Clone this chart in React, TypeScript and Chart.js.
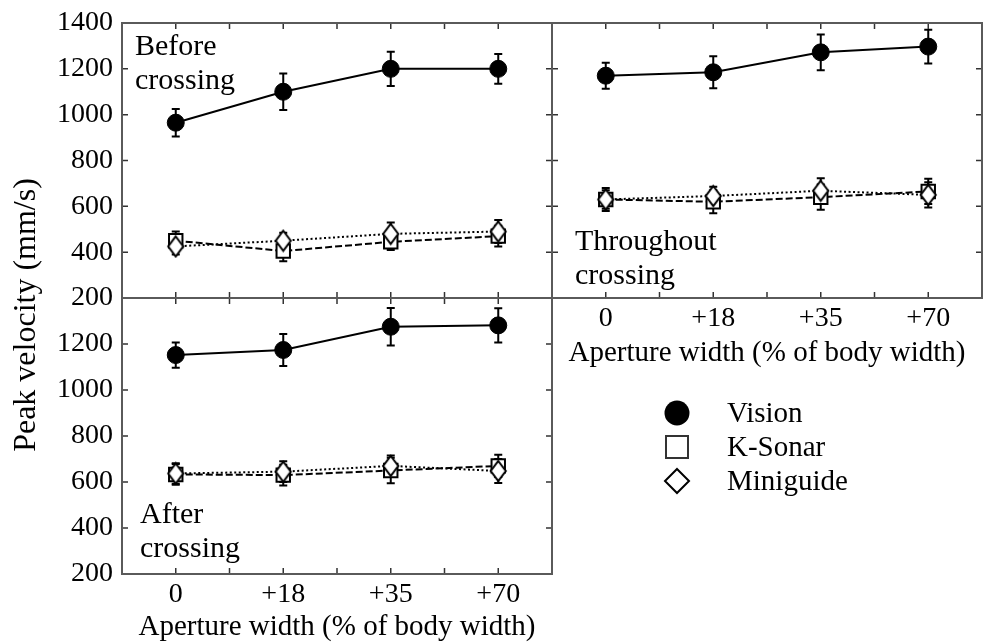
import React, { useEffect, useRef } from 'react';
import { Chart, registerables } from 'chart.js';

Chart.register(...registerables);

const FONT = '"Liberation Serif", "Times New Roman", serif';

const categories = ['0', '+18', '+35', '+70'];
const yTicks = [200, 400, 600, 800, 1000, 1200, 1400];
const seriesNames = ['Vision', 'K-Sonar', 'Miniguide'];
const yTitle = 'Peak velocity (mm/s)';
const xTitle = 'Aperture width (% of body width)';

// Before crossing
const visionBefore = [965, 1100, 1200, 1200];
const visionBeforeErr = [60, 80, 75, 65];
const ksonarBefore = [450, 405, 445, 470];
const ksonarBeforeErr = [40, 45, 35, 45];
const miniBefore = [425, 450, 480, 490];
const miniBeforeErr = [35, 35, 50, 50];

// Throughout crossing
const visionThrough = [1170, 1185, 1272, 1297];
const visionThroughErr = [57, 70, 78, 74];
const ksonarThrough = [630, 620, 640, 665];
const ksonarThroughErr = [50, 50, 55, 55];
const miniThrough = [630, 645, 668, 650];
const miniThroughErr = [40, 40, 55, 55];

// After crossing
const visionAfter = [1152, 1174, 1275, 1281];
const visionAfterErr = [55, 70, 82, 74];
const ksonarAfter = [633, 630, 650, 670];
const ksonarAfterErr = [45, 45, 55, 48];
const miniAfter = [637, 645, 670, 648];
const miniAfterErr = [45, 45, 45, 52];

function toPoints(vals: number[]) {
  return vals.map((y, i) => ({ x: i, y }));
}

function makeDiamond(w: number, h: number, lw: number) {
  const c = document.createElement('canvas');
  c.width = Math.ceil(w + lw * 2);
  c.height = Math.ceil(h + lw * 2);
  const g = c.getContext('2d') as CanvasRenderingContext2D;
  const cx = c.width / 2;
  const cy = c.height / 2;
  g.beginPath();
  g.moveTo(cx, cy - h / 2);
  g.lineTo(cx + w / 2, cy);
  g.lineTo(cx, cy + h / 2);
  g.lineTo(cx - w / 2, cy);
  g.closePath();
  g.fillStyle = '#fff';
  g.fill();
  g.lineWidth = lw;
  g.strokeStyle = '#000';
  g.stroke();
  return c;
}

function buildDatasets(v: number[], ve: number[], k: number[], ke: number[], m: number[], me: number[], diamond: HTMLCanvasElement) {
  return [
    {
      label: seriesNames[0], data: toPoints(v), errors: ve,
      borderColor: '#000', borderWidth: 2, tension: 0, fill: false,
      pointStyle: 'circle', pointRadius: 8.5, pointBackgroundColor: '#000', pointBorderColor: '#000', pointBorderWidth: 1,
      order: 0,
    },
    {
      label: seriesNames[1], data: toPoints(k), errors: ke,
      borderColor: '#000', borderWidth: 2, borderDash: [7, 3], tension: 0, fill: false,
      pointStyle: 'rect', pointRadius: 9.5, pointBackgroundColor: '#fff', pointBorderColor: '#000', pointBorderWidth: 2,
      order: 2,
    },
    {
      label: seriesNames[2], data: toPoints(m), errors: me,
      borderColor: '#000', borderWidth: 2, borderDash: [2, 2.5], tension: 0, fill: false,
      pointStyle: diamond, pointRadius: 9, pointBackgroundColor: '#fff', pointBorderColor: '#000', pointBorderWidth: 2,
      order: 1,
    },
  ];
}

const xTickValues = Array.from({ length: categories.length * 2 + 1 }, (_, i) => -0.5 + i * 0.5);

function panelPlugin(id: string, lines: string[], dx: number, dy: number, extra?: (chart: any) => void) {
  return {
    id,
    beforeDatasetsDraw(chart: any) {
      const { ctx, scales } = chart;
      const xs = scales.x;
      const ys = scales.y;
      ctx.save();
      ctx.strokeStyle = '#000';
      ctx.lineWidth = 2;
      ctx.setLineDash([]);
      chart.data.datasets.forEach((ds: any) => {
        const errs: number[] = ds.errors;
        if (!errs) return;
        ds.data.forEach((p: any, i: number) => {
          const x = xs.getPixelForValue(p.x);
          const y1 = ys.getPixelForValue(p.y + errs[i]);
          const y2 = ys.getPixelForValue(p.y - errs[i]);
          ctx.beginPath();
          ctx.moveTo(x, y1); ctx.lineTo(x, y2);
          ctx.moveTo(x - 4, y1); ctx.lineTo(x + 4, y1);
          ctx.moveTo(x - 4, y2); ctx.lineTo(x + 4, y2);
          ctx.stroke();
        });
      });
      ctx.restore();
    },
    afterDraw(chart: any) {
      const { ctx, chartArea: a, scales } = chart;
      ctx.save();
      ctx.setLineDash([]);
      ctx.strokeStyle = '#333';
      ctx.lineWidth = 1.5;
      ctx.beginPath();
      yTicks.forEach((t) => {
        const y = scales.y.getPixelForValue(t);
        ctx.moveTo(a.left, y); ctx.lineTo(a.left + 6, y);
        ctx.moveTo(a.right, y); ctx.lineTo(a.right - 6, y);
      });
      xTickValues.forEach((t) => {
        const x = scales.x.getPixelForValue(t);
        ctx.moveTo(x, a.bottom); ctx.lineTo(x, a.bottom - 6);
        ctx.moveTo(x, a.top); ctx.lineTo(x, a.top + 6);
      });
      ctx.stroke();
      ctx.strokeStyle = '#5a5a5a';
      ctx.lineWidth = 2;
      ctx.strokeRect(a.left, a.top, a.right - a.left, a.bottom - a.top);
      ctx.fillStyle = '#000';
      ctx.font = `30px ${FONT}`;
      ctx.textAlign = 'left';
      ctx.textBaseline = 'alphabetic';
      lines.forEach((ln, i) => ctx.fillText(ln, a.left + dx, a.top + dy + i * 34));
      if (extra) extra(chart);
      ctx.restore();
    },
  };
}

const tickFont = { family: FONT, size: 28, lineHeight: 1.2 };

function yScale(show: boolean, hideTop: boolean) {
  return {
    min: 200, max: 1400,
    grid: { display: false }, border: { display: false },
    ticks: {
      display: show, stepSize: 200, color: '#000', padding: 1, font: tickFont,
      callback: (v: number) => (hideTop && v === 1400 ? '' : String(v)),
    },
    afterFit: (s: any) => { s.width = show ? 122 : 0; },
  };
}

function xScale(showLabels: boolean, height: number, titlePad: number) {
  return {
    type: 'linear', min: -0.5, max: 3.5,
    grid: { display: false }, border: { display: false },
    ticks: {
      display: showLabels, stepSize: 0.5, autoSkip: false, maxRotation: 0, minRotation: 0,
      padding: -4, color: '#000', font: tickFont,
      callback: (v: number) => (Number.isInteger(v) ? categories[v] : ''),
    },
    title: {
      display: showLabels, text: xTitle, color: '#000',
      font: { family: FONT, size: 29, lineHeight: 1 },
      padding: { top: 0, bottom: titlePad },
    },
    afterFit: (s: any) => { s.height = height; },
  };
}

function baseOptions(padding: any, scales: any) {
  return {
    responsive: false,
    maintainAspectRatio: false,
    animation: false,
    events: [],
    layout: { padding, autoPadding: false },
    plugins: { legend: { display: false }, tooltip: { enabled: false } },
    scales,
  };
}

export default function App() {
  const refA = useRef<HTMLCanvasElement>(null);
  const refB = useRef<HTMLCanvasElement>(null);
  const refC = useRef<HTMLCanvasElement>(null);

  useEffect(() => {
    const diamond = makeDiamond(15, 20, 2);

    const yTitlePlugin = (chart: any) => {
      const { ctx, chartArea: a } = chart;
      ctx.save();
      ctx.translate(27, a.bottom + 17);
      ctx.rotate(-Math.PI / 2);
      ctx.font = `32px ${FONT}`;
      ctx.textAlign = 'center';
      ctx.textBaseline = 'middle';
      ctx.fillStyle = '#000';
      ctx.fillText(yTitle, 0, 0);
      ctx.restore();
    };

    const legendPlugin = (chart: any) => {
      const { ctx, chartArea: a } = chart;
      const mx = a.left + 125;
      const tx = a.left + 175;
      const rows = [a.bottom + 115, a.bottom + 149, a.bottom + 183];
      ctx.save();
      ctx.setLineDash([]);
      ctx.fillStyle = '#000';
      ctx.beginPath();
      ctx.arc(mx, rows[0], 12.5, 0, Math.PI * 2);
      ctx.fill();
      ctx.lineWidth = 2;
      ctx.strokeStyle = '#333';
      ctx.fillStyle = '#fff';
      ctx.fillRect(mx - 11, rows[1] - 11, 22, 22);
      ctx.strokeRect(mx - 11, rows[1] - 11, 22, 22);
      ctx.strokeStyle = '#000';
      ctx.beginPath();
      ctx.moveTo(mx, rows[2] - 12);
      ctx.lineTo(mx + 12, rows[2]);
      ctx.lineTo(mx, rows[2] + 12);
      ctx.lineTo(mx - 12, rows[2]);
      ctx.closePath();
      ctx.fill();
      ctx.stroke();
      ctx.fillStyle = '#000';
      ctx.font = `29px ${FONT}`;
      ctx.textAlign = 'left';
      ctx.textBaseline = 'alphabetic';
      seriesNames.forEach((n, i) => ctx.fillText(n, tx, rows[i] + 9));
      ctx.restore();
    };

    const chartA = new Chart(refA.current as HTMLCanvasElement, {
      type: 'line',
      data: { datasets: buildDatasets(visionBefore, visionBeforeErr, ksonarBefore, ksonarBeforeErr, miniBefore, miniBeforeErr, diamond) as any },
      options: baseOptions({ top: 33, right: 8, bottom: 323, left: 0 }, {
        x: xScale(false, 22, 0),
        y: yScale(true, false),
      }) as any,
      plugins: [panelPlugin('panelA', ['Before', 'crossing'], 13, 32, yTitlePlugin)],
    });

    const chartB = new Chart(refB.current as HTMLCanvasElement, {
      type: 'line',
      data: { datasets: buildDatasets(visionThrough, visionThroughErr, ksonarThrough, ksonarThroughErr, miniThrough, miniThroughErr, diamond) as any },
      options: baseOptions({ top: 23, right: 1, bottom: 268, left: 8 }, {
        x: xScale(true, 77, 7.5),
        y: yScale(false, false),
      }) as any,
      plugins: [panelPlugin('panelB', ['Throughout', 'crossing'], 23, 227, legendPlugin)],
    });

    const chartC = new Chart(refC.current as HTMLCanvasElement, {
      type: 'line',
      data: { datasets: buildDatasets(visionAfter, visionAfterErr, ksonarAfter, ksonarAfterErr, miniAfter, miniAfterErr, diamond) as any },
      options: baseOptions({ top: 28, right: 8, bottom: 0, left: 0 }, {
        x: xScale(true, 69, 1.5),
        y: yScale(true, true),
      }) as any,
      plugins: [panelPlugin('panelC', ['After', 'crossing'], 18, 225)],
    });

    return () => {
      chartA.destroy();
      chartB.destroy();
      chartC.destroy();
    };
  }, []);

  return (
    <div style={{ position: 'absolute', left: 0, top: 0, width: 983, height: 643, background: '#fff', overflow: 'hidden' }}>
      <canvas ref={refA} width={560} height={653} style={{ position: 'absolute', left: 0, top: -10 }} />
      <canvas ref={refB} width={439} height={643} style={{ position: 'absolute', left: 544, top: 0 }} />
      <canvas ref={refC} width={560} height={373} style={{ position: 'absolute', left: 0, top: 270 }} />
    </div>
  );
}
